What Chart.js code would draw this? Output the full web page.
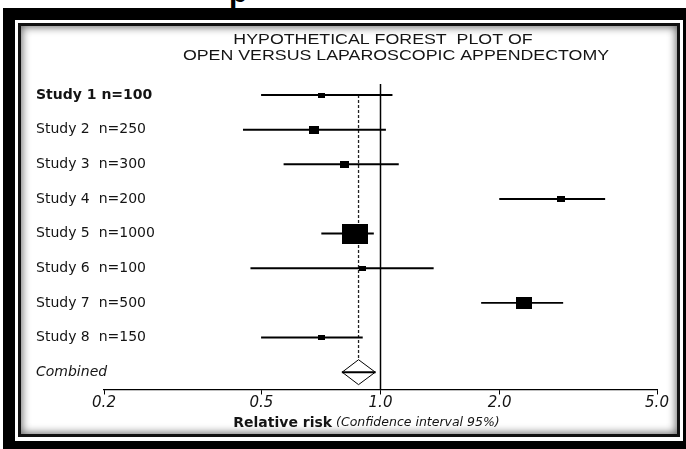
<!DOCTYPE html>
<html>
<head>
<meta charset="utf-8">
<script src="https://cdn.jsdelivr.net/npm/chart.js@4.4.1/dist/chart.umd.min.js"></script>
<style>
    html, body { margin: 0; padding: 0; background: #fff; }
    body { position: relative; width: 686px; height: 449px; overflow: hidden; }
    .glyph { position: absolute; left: 229px; top: -23px; font: bold 30px 'Liberation Sans', Arial, sans-serif; line-height: 30px; color: #000; }
    .outer { position: absolute; left: 3px; top: 8px; width: 683px; height: 441px; background: #000; }
    .rule { position: absolute; left: 15px; top: 20px; width: 668px; height: 421px; background: #fff; }
    .edge { position: absolute; left: 18px; top: 23px; width: 662px; height: 414px; background: #111; }
    .panel { position: absolute; left: 21px; top: 26px; width: 656px; height: 408px; background: #fff; box-shadow: inset 0 0 9px 1px rgba(0, 0, 0, 0.6); }
    .panel canvas { position: absolute; left: 0; top: 0; }
</style>
</head>
<body>
<div class="glyph">p</div>
<div class="outer"></div>
<div class="rule"></div>
<div class="edge"></div>
<div class="panel"><canvas id="forestChart" width="656" height="408"></canvas></div>
<script>
// study rows, top to bottom
const studyLabels = ['Study 1 n=100', 'Study 2  n=250', 'Study 3  n=300', 'Study 4  n=200',
    'Study 5  n=1000', 'Study 6  n=100', 'Study 7  n=500', 'Study 8  n=150'];
const combinedLabel = 'Combined';

// relative risk with 95% CI
const rrEstimate = [0.71, 0.68, 0.81, 2.86, 0.86, 0.90, 2.30, 0.71];
const rrLower = [0.50, 0.45, 0.57, 2.00, 0.71, 0.47, 1.80, 0.50];
const rrUpper = [1.07, 1.03, 1.11, 3.69, 0.96, 1.36, 2.89, 0.90];
// relative weight (%) -> box area
const studyWeight = [3.5, 7.9, 6.4, 4.6, 51.6, 3.5, 19.0, 3.5];

const combinedEstimate = 0.88;
const combinedLower = 0.80;
const combinedUpper = 0.97;

const xTickValues = [0.2, 0.5, 1, 2, 5];
const xTickLabels = ['0.2', '0.5', '1.0', '2.0', '5.0'];

const titleLines = ['HYPOTHETICAL FOREST  PLOT OF', 'OPEN VERSUS LAPAROSCOPIC APPENDECTOMY'];

const rowLabels = [...studyLabels, combinedLabel];
const combinedRow = studyLabels.length;
const diamondHalf = 0.36;
const yAxisWidth = 68;
const textColor = '#141414';

// small filled rectangles used as point styles
function makeBox(weight) {
    const w = Math.max(5, Math.round(3.62 * Math.sqrt(weight)));
    const h = Math.max(4, Math.round(2.79 * Math.sqrt(weight)));
    const c = document.createElement('canvas');
    c.width = w;
    c.height = h;
    const g = c.getContext('2d');
    g.fillStyle = '#000';
    g.fillRect(0, 0, w, h);
    return c;
}
const boxes = studyWeight.map(makeBox);

const panelText = {
    id: 'panelText',
    afterDraw(chart) {
        const { ctx, chartArea } = chart;
        ctx.save();
        ctx.fillStyle = textColor;
        ctx.textBaseline = 'middle';
        ctx.textAlign = 'center';
        ctx.font = '14px "Liberation Sans", Arial, sans-serif';
        titleLines.forEach((line, i) => {
            ctx.save();
            ctx.translate(chartArea.left + 279 + i * 13, 14 + i * 16);
            ctx.scale(1.27, 1);
            ctx.fillText(line, 0, 0);
            ctx.restore();
        });

        // axis title: bold part + italic part
        const part1 = 'Relative risk';
        const part2 = ' (Confidence interval 95%)';
        const f1 = 'bold 14px "DejaVu Sans", sans-serif';
        const f2 = 'italic 12.5px "DejaVu Sans", sans-serif';
        ctx.font = f1;
        const w1 = ctx.measureText(part1).width;
        ctx.font = f2;
        const w2 = ctx.measureText(part2).width;
        const cx = (chartArea.left + chartArea.right) / 2 - 14;
        const y = chartArea.bottom + 33.5;
        const x = cx - (w1 + w2) / 2;
        ctx.textAlign = 'left';
        ctx.font = f1;
        ctx.fillText(part1, x, y);
        ctx.font = f2;
        ctx.fillText(part2, x + w1, y);
        ctx.restore();
    },
};

const ciData = rrLower.map((lo, i) => ({ y: i, x: [lo, rrUpper[i]] }));
ciData.push({ y: combinedRow, x: [combinedLower, combinedUpper] });

new Chart(document.getElementById('forestChart'), {
    type: 'scatter',
    data: {
        datasets: [
            {
                type: 'scatter',
                data: rrEstimate.map((v, i) => ({ x: v, y: i })),
                pointStyle: (ctx) => boxes[ctx.dataIndex],
                pointRadius: 4,
                order: 0,
            },
            {
                type: 'line',
                data: [
                    { x: combinedLower, y: combinedRow },
                    { x: combinedEstimate, y: combinedRow - diamondHalf },
                    { x: combinedUpper, y: combinedRow },
                    { x: combinedEstimate, y: combinedRow + diamondHalf },
                    { x: combinedLower, y: combinedRow },
                ],
                borderColor: '#000',
                borderWidth: 1,
                pointRadius: 0,
                fill: false,
                tension: 0,
                order: 1,
            },
            {
                type: 'bar',
                indexAxis: 'y',
                data: ciData,
                backgroundColor: '#000',
                borderWidth: 0,
                barThickness: 1.3,
                order: 2,
            },
            {
                type: 'line',
                data: [{ x: 1, y: -0.32 }, { x: 1, y: combinedRow + 0.5 }],
                borderColor: '#000',
                borderWidth: 1.5,
                pointRadius: 0,
                order: 3,
            },
            {
                type: 'line',
                data: [{ x: combinedEstimate, y: 0 }, { x: combinedEstimate, y: combinedRow - diamondHalf }],
                borderColor: '#222',
                borderWidth: 1.3,
                borderDash: [3, 2],
                pointRadius: 0,
                order: 3,
            },
        ],
    },
    options: {
        responsive: false,
        animation: false,
        events: [],
        layout: { padding: { left: 15, right: 20, top: 51.7, bottom: 0 } },
        plugins: {
            legend: { display: false },
            tooltip: { enabled: false },
        },
        scales: {
            x: {
                type: 'logarithmic',
                min: 0.2,
                max: 5,
                offset: false,
                afterBuildTicks: (scale) => {
                    scale.ticks = xTickValues.map((v) => ({ value: v }));
                },
                afterFit: (scale) => {
                    scale.height = 44.5;
                },
                ticks: {
                    autoSkip: false,
                    maxRotation: 0,
                    padding: 0,
                    color: textColor,
                    font: { family: '"DejaVu Sans", sans-serif', size: 15, style: 'italic' },
                    callback: (value, index) => xTickLabels[index],
                },
                grid: {
                    display: true,
                    offset: false,
                    drawOnChartArea: false,
                    drawTicks: true,
                    tickLength: 5,
                    tickColor: '#000',
                    tickWidth: 1,
                },
                border: { display: true, color: '#000', width: 1.2 },
            },
            y: {
                type: 'linear',
                min: -0.5,
                max: combinedRow + 0.5,
                reverse: true,
                offset: false,
                afterBuildTicks: (scale) => {
                    scale.ticks = rowLabels.map((_, i) => ({ value: i }));
                },
                afterFit: (scale) => {
                    scale.width = yAxisWidth;
                },
                ticks: {
                    mirror: true,
                    crossAlign: 'near',
                    padding: -yAxisWidth,
                    autoSkip: false,
                    color: textColor,
                    font: (ctx) => ({
                        family: '"DejaVu Sans", sans-serif',
                        size: 14,
                        weight: ctx.index === 0 ? 'bold' : 'normal',
                        style: ctx.index === combinedRow ? 'italic' : 'normal',
                    }),
                    callback: (value) => rowLabels[value],
                },
                grid: { display: false, offset: false },
                border: { display: false },
            },
        },
    },
    plugins: [panelText],
});
</script>
</body>
</html>
